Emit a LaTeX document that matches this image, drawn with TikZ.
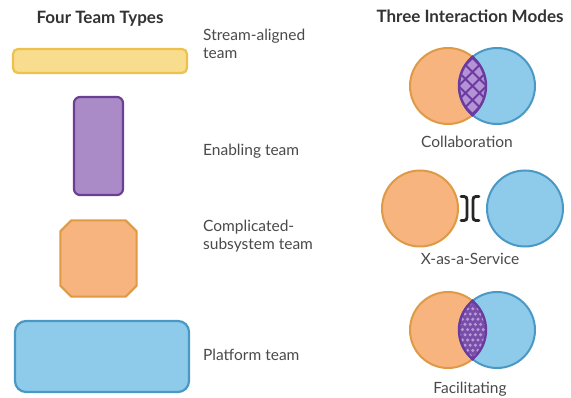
\documentclass[tikz,border=0pt]{standalone}
\usepackage{fontspec}
\setmainfont{Lato}
\definecolor{ylwfill}{HTML}{F9DD8E}
\definecolor{ylwline}{HTML}{EDC24C}
\definecolor{purfill}{HTML}{AA8BC8}
\definecolor{purline}{HTML}{6B3F92}
\definecolor{orgfill}{HTML}{F8B47E}
\definecolor{orgline}{HTML}{DE9A45}
\definecolor{blufill}{HTML}{8ECBEA}
\definecolor{bluline}{HTML}{4A98C4}
\definecolor{lensfill}{HTML}{B393D6}
\definecolor{lensdark}{HTML}{6A3A9E}
\definecolor{dotlight}{HTML}{B89CDA}
\definecolor{txtgray}{HTML}{4A4A4A}
\definecolor{ttlgray}{HTML}{333333}
\tikzset{
  teambox/.style={draw, line width=2.2pt, inner sep=0pt},
  ocirc/.style={circle, draw=orgline, fill=orgfill, line width=2pt, minimum size=76pt, inner sep=0pt},
  bcirc/.style={circle, draw=bluline, fill=blufill, line width=2pt, minimum size=76pt, inner sep=0pt},
  lbl/.style={text=txtgray, font=\fontsize{15.5}{18}\selectfont, align=left, anchor=base west, inner sep=0pt},
  modelbl/.style={text=txtgray, font=\fontsize{15.5}{18}\selectfont, anchor=base, inner sep=0pt},
  ttl/.style={text=ttlgray, font=\fontsize{17}{19}\selectfont\bfseries, anchor=base, inner sep=0pt},
  lensline/.style={draw=lensdark, line width=2.4pt},
  bracketline/.style={line width=2.8pt, black!85, line cap=round},
}
\begin{document}
\begin{tikzpicture}[x=1pt,y=-1pt]
\useasboundingbox[fill=white] (0,0) rectangle (571,398);

% titles
\node[ttl] (t1) at (100,24) {Four Team Types};
\node[ttl] (t2) at (470,23) {Three Interaction Modes};

% team types
\node[teambox, draw=ylwline, fill=ylwfill, rounded corners=5pt, minimum width=174pt, minimum height=24pt] (sa) at (100,61) {};
\node[teambox, draw=purline, fill=purfill, rounded corners=6pt, minimum width=49pt, minimum height=98pt] (en) at (98.5,146) {};
\node[inner sep=0pt, minimum width=76pt, minimum height=76pt] (cs) at (98.5,258.5) {};
\filldraw[draw=orgline, fill=orgfill, line width=2pt, line join=round]
  ([xshift=11pt]cs.north west) -- ([xshift=-11pt]cs.north east) -- ([yshift=-11pt]cs.north east)
  -- ([yshift=11pt]cs.south east) -- ([xshift=-11pt]cs.south east) -- ([xshift=11pt]cs.south west)
  -- ([yshift=11pt]cs.south west) -- ([yshift=-11pt]cs.north west) -- cycle;
\node[teambox, draw=bluline, fill=blufill, rounded corners=11pt, minimum width=174pt, minimum height=71pt] (pf) at (102,356.5) {};

\node[lbl] (lsa) at (203,59) {Stream-aligned\\team};
\node[lbl] (len) at (203,156) {Enabling team};
\node[lbl] (lcs) at (203,250) {Complicated-\\subsystem team};
\node[lbl] (lpf) at (203,361) {Platform team};

% collaboration
\node[ocirc] (co) at (448,86) {};
\node[bcirc] (cb) at (497,86) {};
\begin{scope}
  \clip (co.center) circle [radius=38];
  \clip (cb.center) circle [radius=38];
  \fill[lensfill] (cb.center) circle [radius=38];
  \foreach \k in {-84,-70,...,84} {
    \draw[lensdark, line width=1.8pt] (472.5+\k-45,86-45) -- (472.5+\k+45,86+45);
    \draw[lensdark, line width=1.8pt] (472.5+\k+45,86-45) -- (472.5+\k-45,86+45);
  }
\end{scope}
\begin{scope}
  \clip (co.center) circle [radius=39.2];
  \draw[lensline] (cb.center) circle [radius=38];
\end{scope}
\begin{scope}
  \clip (cb.center) circle [radius=39.2];
  \draw[lensline] (co.center) circle [radius=38];
\end{scope}
\node[modelbl] (lco) at (467,148) {Collaboration};

% x-as-a-service
\node[ocirc] (xo) at (420,208.5) {};
\node[bcirc] (xb) at (525,208.5) {};
\coordinate (bl) at (467,208.5);
\coordinate (br) at (473,208.5);
\draw[bracketline] ([shift={(-6,-12)}]bl) .. controls ([shift={(0,-12)}]bl) .. ([shift={(0,-5)}]bl) -- ([shift={(0,5)}]bl) .. controls ([shift={(0,12)}]bl) .. ([shift={(-6,12)}]bl);
\draw[bracketline] ([shift={(6,-12)}]br) .. controls ([shift={(0,-12)}]br) .. ([shift={(0,-5)}]br) -- ([shift={(0,5)}]br) .. controls ([shift={(0,12)}]br) .. ([shift={(6,12)}]br);
\node[modelbl] (lxs) at (470,265) {X-as-a-Service};

% facilitating
\node[ocirc] (fo) at (448,330) {};
\node[bcirc] (fb) at (497,330) {};
\begin{scope}
  \clip (fo.center) circle [radius=38];
  \clip (fb.center) circle [radius=38];
  \fill[lensdark!90] (fb.center) circle [radius=38];
  \foreach \i in {0,...,8} {
    \foreach \j in {0,...,16} {
      \pgfmathsetmacro{\xx}{452+\i*5.2+mod(\j,2)*2.6}
      \pgfmathsetmacro{\yy}{288+\j*5.2}
      \fill[dotlight] (\xx,\yy) circle [radius=1.7];
    }
  }
\end{scope}
\begin{scope}
  \clip (fo.center) circle [radius=39.2];
  \draw[lensline] (fb.center) circle [radius=38];
\end{scope}
\begin{scope}
  \clip (fb.center) circle [radius=39.2];
  \draw[lensline] (fo.center) circle [radius=38];
\end{scope}
\node[modelbl] (lfa) at (470,393) {Facilitating};
\end{tikzpicture}
\end{document}
